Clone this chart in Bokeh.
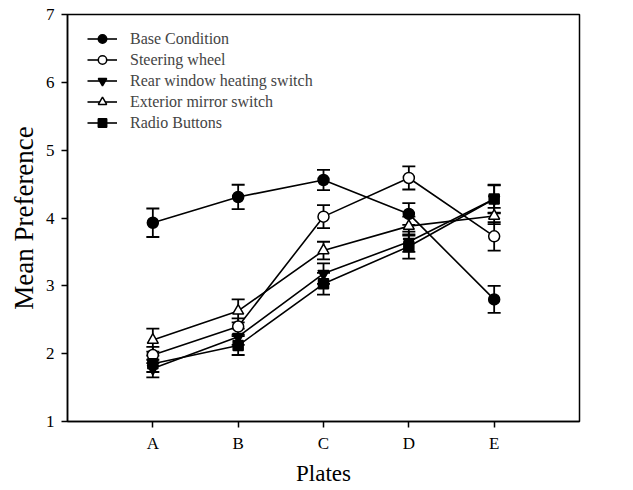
from bokeh.plotting import figure
from bokeh.models import ColumnDataSource, Whisker, TeeHead, FixedTicker, Range1d, Legend, LegendItem
from bokeh.embed import file_html
from bokeh.resources import INLINE

categories = ["A", "B", "C", "D", "E"]
xpos = [1, 2, 3, 4, 5]

base = [3.93, 4.31, 4.56, 4.06, 2.80]
base_err = [0.21, 0.18, 0.15, 0.16, 0.20]
steering = [1.98, 2.40, 4.02, 4.59, 3.73]
steering_err = [0.12, 0.12, 0.17, 0.17, 0.21]
rear = [1.78, 2.25, 3.18, 3.65, 4.28]
rear_err = [0.13, 0.12, 0.15, 0.15, 0.20]
mirror = [2.20, 2.63, 3.52, 3.88, 4.03]
mirror_err = [0.17, 0.17, 0.13, 0.14, 0.12]
radio = [1.85, 2.12, 3.03, 3.58, 4.28]
radio_err = [0.12, 0.14, 0.16, 0.18, 0.21]

series = [
    ("Base Condition", base, base_err, "circle", "black"),
    ("Steering wheel", steering, steering_err, "circle", "white"),
    ("Rear window heating switch", rear, rear_err, "inverted_triangle", "black"),
    ("Exterior mirror switch", mirror, mirror_err, "triangle", "white"),
    ("Radio Buttons", radio, radio_err, "square", "black"),
]

FONT = "Liberation Serif"

p = figure(frame_width=512, frame_height=407, output_backend="svg", toolbar_location=None,
           x_range=Range1d(0, 6), y_range=Range1d(1, 7),
           min_border_left=67, min_border_right=54, min_border_top=14, min_border_bottom=69)
p.xgrid.visible = False
p.ygrid.visible = False
p.outline_line_color = "black"
p.outline_line_width = 1.5

items = []
for name, vals, errs, marker, fill in series:
    src = ColumnDataSource(dict(x=xpos, y=vals,
                                upper=[v + e for v, e in zip(vals, errs)],
                                lower=[v - e for v, e in zip(vals, errs)]))
    w = Whisker(source=src, base="x", upper="upper", lower="lower",
                line_color="black", line_width=1.8,
                upper_head=TeeHead(size=13, line_width=1.8, line_color="black"),
                lower_head=TeeHead(size=13, line_width=1.8, line_color="black"))
    p.add_layout(w)
    ln = p.line("x", "y", source=src, line_color="black", line_width=1.6)
    sz = 11 if marker != "square" else 10
    sc = p.scatter("x", "y", source=src, marker=marker, size=sz, fill_color=fill,
                   line_color="black", line_width=1.5)
    items.append(LegendItem(label=name, renderers=[ln, sc]))

legend = Legend(items=items, location=(20, 288), border_line_color=None,
                background_fill_alpha=0, padding=0, margin=0, spacing=0,
                glyph_width=30, glyph_height=21, label_height=21, label_standoff=13,
                label_text_font=FONT, label_text_font_size="16px")
p.add_layout(legend, "center")

p.xaxis.ticker = FixedTicker(ticks=xpos)
p.xaxis.major_label_overrides = {i: c for i, c in zip(xpos, categories)}
p.yaxis.ticker = FixedTicker(ticks=[1, 2, 3, 4, 5, 6, 7])

for ax in (p.xaxis[0], p.yaxis[0]):
    ax.axis_line_color = "black"
    ax.axis_line_width = 1.5
    ax.major_tick_line_width = 1.5
    ax.major_tick_out = 6
    ax.major_tick_in = 0
    ax.minor_tick_line_color = None
    ax.major_label_text_font = FONT
    ax.major_label_text_font_size = "17px"
    ax.major_label_text_color = "black"
    ax.axis_label_text_font = FONT
    ax.axis_label_text_font_style = "normal"
    ax.axis_label_text_color = "black"

p.xaxis.axis_label = "Plates"
p.xaxis.axis_label_text_font_size = "23px"
p.xaxis.major_label_standoff = 6
p.xaxis.axis_label_standoff = 5
p.yaxis.axis_label = "Mean Preference"
p.yaxis.axis_label_text_font_size = "27px"
p.yaxis.major_label_standoff = 7
p.yaxis.axis_label_standoff = 4

open("out.html", "w").write(file_html(p, INLINE))
